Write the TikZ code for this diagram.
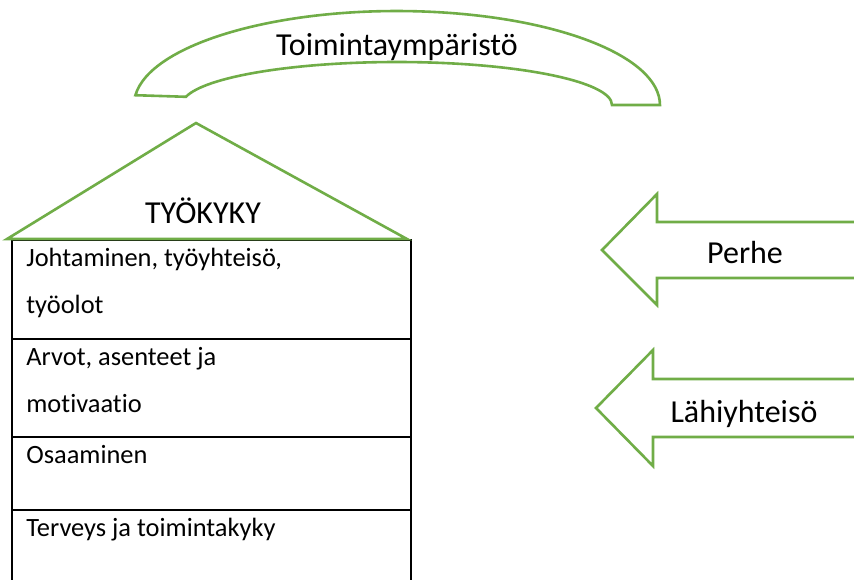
\documentclass[tikz,border=0pt]{standalone}
\usepackage{fontspec}
\setmainfont[Ligatures=NoCommon]{Carlito}
\definecolor{offgreen}{HTML}{70AD47}
\begin{document}
\begin{tikzpicture}[x=0.5pt,y=0.5pt,
  greenline/.style={draw=offgreen,line width=1.3pt,line join=miter},
  blackline/.style={draw=black,line width=1.1pt},
  title/.style={inner sep=0pt,font=\fontsize{16}{19}\selectfont,anchor=base},
  rowtext/.style={inner sep=0pt,font=\fontsize{13.2}{16}\selectfont,anchor=base west}]
\clip (0,0) rectangle (854,-579);
\fill[white] (0,0) rectangle (854,-579);
% block arc
\path[greenline,fill=white] (135.4,-95.2) arc[start angle=174,end angle=0,x radius=263,y radius=94]
  -- (612,-105) arc[start angle=0,end angle=169,x radius=215,y radius=43] -- cycle;
\node[title] (env) at (397,-55) {Toimintaympäristö};
% stacked box
\draw[blackline] (12,-590) -- (12,-240) -- (411,-240) -- (411,-590);
\draw[blackline] (12,-339) -- (411,-339);
\draw[blackline] (12,-437) -- (411,-437);
\draw[blackline] (12,-510) -- (411,-510);
% roof
\path[greenline,fill=white] (7,-239) -- (196,-123) -- (407,-239) -- cycle;
\node[title] (roof) at (203,-223) {TYÖKYKY};
% row texts
\node[rowtext] (r1a) at (26,-266) {Johtaminen, työyhteisö,};
\node[rowtext] (r1b) at (26,-313) {työolot};
\node[rowtext] (r2a) at (26,-365) {Arvot, asenteet ja};
\node[rowtext] (r2b) at (26,-412) {motivaatio};
\node[rowtext] (r3) at (26,-463) {Osaaminen};
\node[rowtext] (r4) at (26,-536) {Terveys ja toimintakyky};
% arrows
\path[greenline] (860,-222) -- (657,-222) -- (657,-194) -- (602,-250) -- (657,-305) -- (657,-278) -- (860,-278);
\node[title] (perhe) at (745,-263) {Perhe};
\path[greenline] (860,-379) -- (653,-379) -- (653,-350) -- (596,-408) -- (653,-466) -- (653,-437) -- (860,-437);
\node[title] (lahi) at (744,-422) {Lähiyhteisö};
\end{tikzpicture}
\end{document}
